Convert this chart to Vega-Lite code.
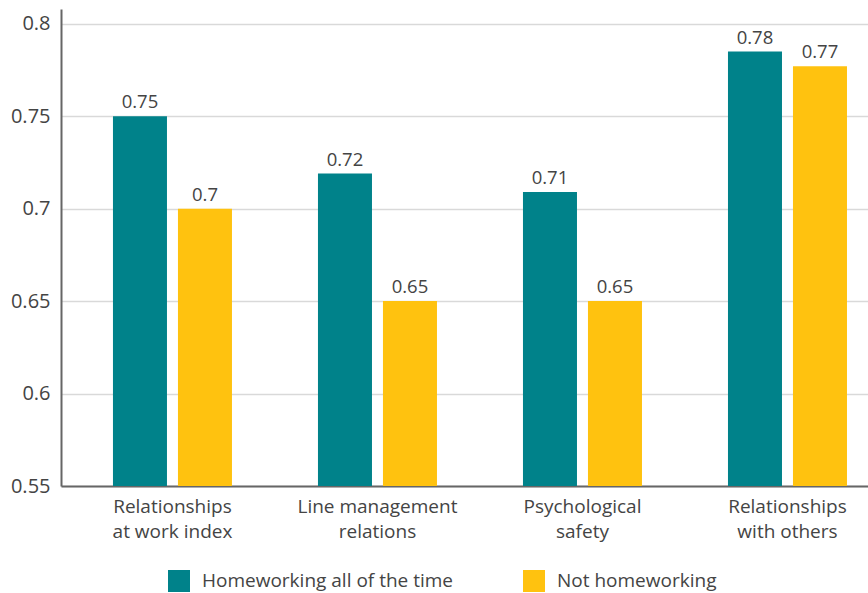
{
  "$schema": "https://vega.github.io/schema/vega-lite/v6.json",
  "width": 807,
  "height": 477,
  "autosize": "none",
  "padding": {"left": 61, "top": 9, "right": 0, "bottom": 107},
  "background": "white",
  "config": {
    "font": "Open Sans",
    "view": {"stroke": null}
  },
  "data": {
    "values": [
      {"category": "Relationships at work index", "group": "Homeworking all of the time", "value": 0.75, "label": "0.75"},
      {"category": "Relationships at work index", "group": "Not homeworking", "value": 0.70, "label": "0.7"},
      {"category": "Line management relations", "group": "Homeworking all of the time", "value": 0.719, "label": "0.72"},
      {"category": "Line management relations", "group": "Not homeworking", "value": 0.65, "label": "0.65"},
      {"category": "Psychological safety", "group": "Homeworking all of the time", "value": 0.709, "label": "0.71"},
      {"category": "Psychological safety", "group": "Not homeworking", "value": 0.65, "label": "0.65"},
      {"category": "Relationships with others", "group": "Homeworking all of the time", "value": 0.785, "label": "0.78"},
      {"category": "Relationships with others", "group": "Not homeworking", "value": 0.777, "label": "0.77"}
    ]
  },
  "encoding": {
    "x": {
      "field": "category",
      "type": "nominal",
      "sort": null,
      "scale": {"paddingInner": 0.4195, "paddingOuter": 0.178, "align": 0.712},
      "axis": {
        "title": null,
        "labelAngle": 0,
        "labelFontSize": 19,
        "labelColor": "#444444",
        "labelPadding": 11,
        "labelLineHeight": 25,
        "labelLimit": 0,
        "ticks": false,
        "domainColor": "#666666",
        "domainWidth": 2,
        "labelExpr": "datum.value == 'Relationships at work index' ? ['Relationships', 'at work index'] : datum.value == 'Line management relations' ? ['Line management', 'relations'] : datum.value == 'Psychological safety' ? ['Psychological', 'safety'] : ['Relationships', 'with others']"
      }
    },
    "xOffset": {
      "field": "group",
      "type": "nominal",
      "scale": {"paddingInner": 0.169, "paddingOuter": 0}
    },
    "y": {
      "field": "value",
      "type": "quantitative",
      "scale": {"domain": [0.55, 0.808], "nice": false, "zero": false},
      "axis": {
        "title": null,
        "values": [0.55, 0.6, 0.65, 0.7, 0.75, 0.8],
        "labelExpr": "format(datum.value, '~g')",
        "labelFontSize": 20,
        "labelColor": "#444444",
        "labelPadding": 11,
        "ticks": false,
        "domainColor": "#666666",
        "domainWidth": 2,
        "gridColor": "#d9d9d9",
        "gridWidth": 1.5
      }
    }
  },
  "layer": [
    {
      "mark": {"type": "bar", "clip": true},
      "encoding": {
        "color": {
          "field": "group",
          "type": "nominal",
          "scale": {"domain": ["Homeworking all of the time", "Not homeworking"], "range": ["#00828A", "#FFC20F"]},
          "legend": {
            "title": null,
            "orient": "none",
            "direction": "horizontal",
            "legendX": 107,
            "legendY": 561,
            "symbolType": "square",
            "symbolSize": 484,
            "symbolStrokeWidth": 0,
            "labelFontSize": 19,
            "labelColor": "#444444",
            "labelOffset": 12,
            "labelLimit": 0,
            "columnPadding": 70
          }
        }
      }
    },
    {
      "mark": {"type": "text", "baseline": "bottom", "dy": -4, "fontSize": 18.5, "color": "#444444"},
      "encoding": {"text": {"field": "label"}}
    }
  ]
}
